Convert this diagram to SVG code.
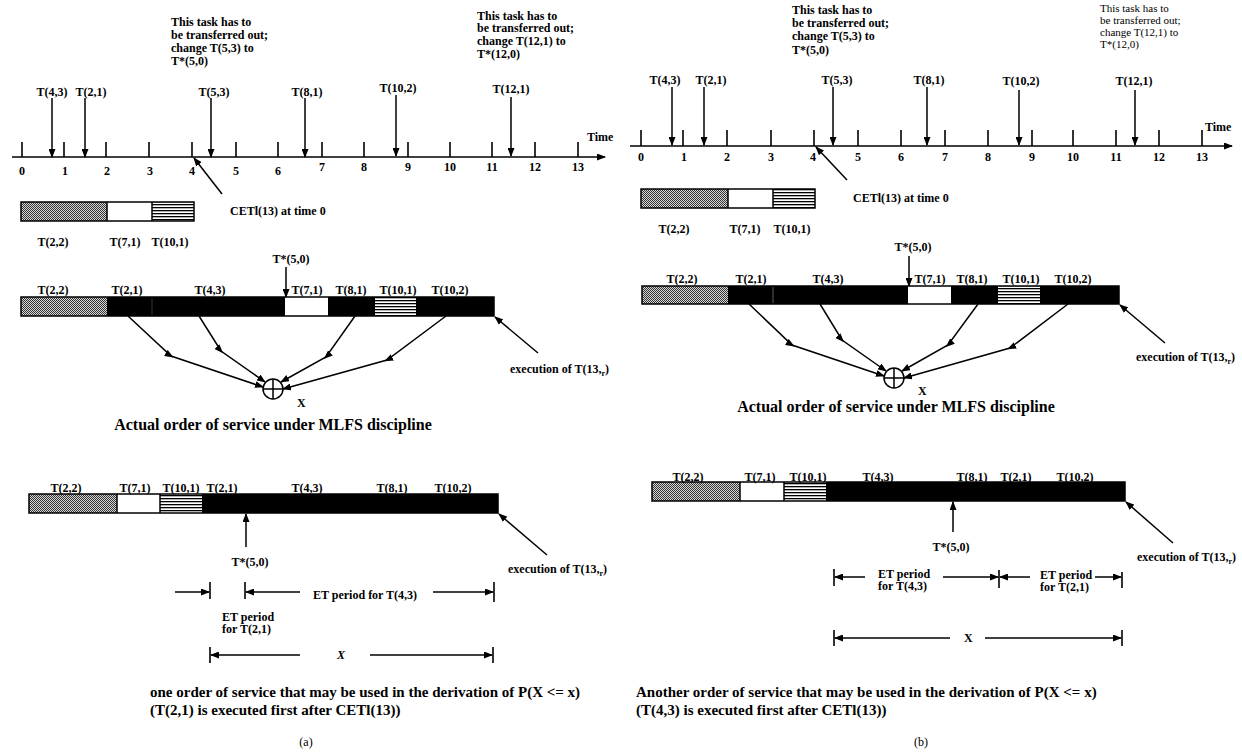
<svg xmlns="http://www.w3.org/2000/svg" width="1242" height="756" viewBox="0 0 1242 756">
<style>
text{font-family:"Liberation Serif","Times New Roman",serif;font-weight:bold;font-size:12px;fill:#000}
.c{text-anchor:middle}
.r{font-weight:normal}
.sm{font-size:11px}
.big{font-size:16px}
.cap{font-size:15px}
.ln{stroke:#000;stroke-width:1.5;fill:none}
.tk{stroke:#000;stroke-width:1.6}
.bar{stroke:#000;stroke-width:1.5}
</style>
<defs>
<marker id="ah" markerUnits="userSpaceOnUse" markerWidth="9" markerHeight="7" refX="8" refY="3.5" orient="auto"><path d="M0,0 L9,3.5 L0,7 z" fill="#000"/></marker>
<marker id="am" markerUnits="userSpaceOnUse" markerWidth="9" markerHeight="7" refX="6" refY="3.5" orient="auto"><path d="M0,0 L9,3.5 L0,7 z" fill="#000"/></marker>
<pattern id="stip" width="2" height="2" patternUnits="userSpaceOnUse"><rect width="2" height="2" fill="#d8d8d8"/><rect width="1" height="1" fill="#333"/><rect x="1" y="1" width="1" height="1" fill="#333"/></pattern>
<pattern id="hstr" width="4" height="3" patternUnits="userSpaceOnUse"><rect width="4" height="3" fill="#fff"/><rect width="4" height="1.3" fill="#000"/></pattern>
</defs>

<!-- ================= PANEL A ================= -->
<g id="a-note1">
<text x="171" y="26">This task has to</text>
<text x="171" y="39">be transferred out;</text>
<text x="171" y="52">change T(5,3) to</text>
<text x="171" y="65">T*(5,0)</text>
</g>
<g id="a-note2">
<text x="477" y="20">This task has to</text>
<text x="477" y="32">be transferred out;</text>
<text x="477" y="45">change T(12,1) to</text>
<text x="477" y="58">T*(12,0)</text>
</g>
<g id="a-arrivals">
<text class="c" x="52" y="96">T(4,3)</text>
<text class="c" x="91" y="96">T(2,1)</text>
<text class="c" x="214" y="96">T(5,3)</text>
<text class="c" x="307" y="96">T(8,1)</text>
<text class="c" x="398" y="92">T(10,2)</text>
<text class="c" x="511" y="93">T(12,1)</text>
</g>
<g id="a-axis">
<line class="ln" x1="12" y1="157" x2="605" y2="157" marker-end="url(#ah)"/>
<path class="tk" d="M22,142V157M64,142V157M106,142V157M149,142V157M192,142V157M236,142V157M278,142V157M322,142V157M364,142V157M408,142V157M450,142V157M492,142V157M535,142V157M578,142V157"/>
<text class="c" x="22" y="175">0</text><text class="c" x="65" y="175">1</text><text class="c" x="107" y="175">2</text><text class="c" x="150" y="175">3</text><text class="c" x="192" y="175">4</text><text class="c" x="236" y="175">5</text><text class="c" x="278" y="175">6</text><text class="c" x="322" y="171">7</text><text class="c" x="364" y="171">8</text><text class="c" x="408" y="171">9</text><text class="c" x="450" y="171">10</text><text class="c" x="492" y="171">11</text><text class="c" x="535" y="171">12</text><text class="c" x="578" y="171">13</text>
<text x="587" y="141">Time</text>
</g>
<g id="a-cet">
<text x="230" y="215">CETl(13) at time 0</text>
</g>
<g id="a-queue">
<rect x="21" y="202" width="86" height="19" fill="url(#stip)"/>
<rect x="107" y="202" width="45" height="19" fill="#fff"/>
<rect x="152" y="202" width="42" height="19" fill="url(#hstr)"/>
<rect class="bar" x="21" y="202" width="173" height="19" fill="none"/>
<line class="bar" x1="107" y1="202" x2="107" y2="221"/><line class="bar" x1="152" y1="202" x2="152" y2="221"/>
<text class="c" x="53" y="246">T(2,2)</text><text class="c" x="125" y="246">T(7,1)</text><text class="c" x="170" y="246">T(10,1)</text>
</g>
<g id="a-actual">
<rect x="21" y="297" width="86" height="19" fill="url(#stip)"/>
<rect x="107" y="297" width="178" height="19" fill="#000"/>
<rect x="285" y="297" width="43" height="19" fill="#fff"/>
<rect x="328" y="297" width="47" height="19" fill="#000"/>
<rect x="375" y="297" width="41" height="19" fill="url(#hstr)"/>
<rect x="416" y="297" width="78" height="19" fill="#000"/>
<rect class="bar" x="21" y="297" width="473" height="19" fill="none"/>
<line x1="152" y1="298" x2="152" y2="315" stroke="#444" stroke-width="0.8"/>
<text class="c" x="53" y="294">T(2,2)</text><text class="c" x="127" y="294">T(2,1)</text><text class="c" x="210" y="294">T(4,3)</text><text class="c" x="307" y="294">T(7,1)</text><text class="c" x="351" y="294">T(8,1)</text><text class="c" x="398" y="294">T(10,1)</text><text class="c" x="450" y="294">T(10,2)</text>
<text class="c" x="291" y="263">T*(5,0)</text>
<text x="510" y="373">execution of T(13,<tspan font-size="8" dy="3">r</tspan><tspan dy="-3">)</tspan></text>
</g>
<g id="a-sum">
<circle cx="273" cy="389" r="10" fill="#fff" stroke="#000" stroke-width="1.5"/>
<path class="ln" d="M263,389H283M273,379V399"/>
<text x="297" y="407">X</text>
</g>
<text class="c big" x="273" y="430">Actual order of service under MLFS discipline</text>
<g id="a-order">
<rect x="29" y="494" width="88" height="19" fill="url(#stip)"/>
<rect x="117" y="494" width="43" height="19" fill="#fff"/>
<rect x="160" y="494" width="42" height="19" fill="url(#hstr)"/>
<rect x="202" y="494" width="296" height="19" fill="#000"/>
<rect class="bar" x="29" y="494" width="469" height="19" fill="none"/>
<line class="bar" x1="117" y1="494" x2="117" y2="513"/><line class="bar" x1="160" y1="494" x2="160" y2="513"/>
<text class="c" x="66" y="492">T(2,2)</text><text class="c" x="135" y="492">T(7,1)</text><text class="c" x="181" y="492">T(10,1)</text><text class="c" x="222" y="492">T(2,1)</text><text class="c" x="307" y="492">T(4,3)</text><text class="c" x="392" y="492">T(8,1)</text><text class="c" x="453" y="492">T(10,2)</text>
<text class="c" x="250" y="566">T*(5,0)</text>
<text x="508" y="573">execution of T(13,<tspan font-size="8" dy="3">r</tspan><tspan dy="-3">)</tspan></text>
<text x="313" y="599">ET period for T(4,3)</text>
<text x="222" y="621">ET period</text>
<text x="222" y="633">for T(2,1)</text>
<text x="337" y="659" font-style="italic" font-weight="normal">X</text>
</g>
<g id="a-caption">
<text class="cap" x="150" y="697">one order of service that may be used in the derivation of P(X &lt;= x)</text>
<text class="cap" x="150" y="715">(T(2,1) is executed first after CETl(13))</text>
<text class="r c" x="306" y="746">(a)</text>
</g>

<!-- ================= PANEL B ================= -->
<g id="b-note1">
<text x="792" y="14">This task has to</text>
<text x="792" y="27">be transferred out;</text>
<text x="792" y="40">change T(5,3) to</text>
<text x="792" y="54">T*(5,0)</text>
</g>
<g id="b-note2">
<text class="r sm" x="1100" y="12">This task has to</text>
<text class="r sm" x="1100" y="24">be transferred out;</text>
<text class="r sm" x="1100" y="36">change T(12,1) to</text>
<text class="r sm" x="1100" y="48">T*(12,0)</text>
</g>
<g id="b-arrivals">
<text class="c" x="665" y="84">T(4,3)</text>
<text class="c" x="711" y="84">T(2,1)</text>
<text class="c" x="837" y="84">T(5,3)</text>
<text class="c" x="929" y="84">T(8,1)</text>
<text class="c" x="1021" y="85">T(10,2)</text>
<text class="c" x="1134" y="85">T(12,1)</text>
</g>
<g id="b-axis">
<line class="ln" x1="630" y1="146" x2="1232" y2="146" marker-end="url(#ah)"/>
<path class="tk" d="M641,130V146M683,130V146M727,130V146M771,130V146M814,130V146M858,130V146M901,130V146M945,130V146M988,130V146M1032,130V146M1073,130V146M1116,130V146M1159,130V146M1202,130V146"/>
<text class="c" x="641" y="161">0</text><text class="c" x="684" y="161">1</text><text class="c" x="727" y="161">2</text><text class="c" x="771" y="161">3</text><text class="c" x="813" y="161">4</text><text class="c" x="858" y="161">5</text><text class="c" x="901" y="161">6</text><text class="c" x="945" y="161">7</text><text class="c" x="988" y="161">8</text><text class="c" x="1032" y="161">9</text><text class="c" x="1073" y="161">10</text><text class="c" x="1116" y="161">11</text><text class="c" x="1159" y="161">12</text><text class="c" x="1202" y="161">13</text>
<text x="1205" y="131">Time</text>
</g>
<g id="b-cet">
<text x="853" y="202">CETl(13) at time 0</text>
</g>
<g id="b-queue">
<rect x="641" y="189" width="87" height="19" fill="url(#stip)"/>
<rect x="728" y="189" width="45" height="19" fill="#fff"/>
<rect x="773" y="189" width="42" height="19" fill="url(#hstr)"/>
<rect class="bar" x="641" y="189" width="174" height="19" fill="none"/>
<line class="bar" x1="728" y1="189" x2="728" y2="208"/><line class="bar" x1="773" y1="189" x2="773" y2="208"/>
<text class="c" x="674" y="233">T(2,2)</text><text class="c" x="745" y="233">T(7,1)</text><text class="c" x="792" y="233">T(10,1)</text>
</g>
<g id="b-actual">
<rect x="642" y="286" width="86" height="18" fill="url(#stip)"/>
<rect x="728" y="286" width="180" height="18" fill="#000"/>
<rect x="908" y="286" width="43" height="18" fill="#fff"/>
<rect x="951" y="286" width="47" height="18" fill="#000"/>
<rect x="998" y="286" width="42" height="18" fill="url(#hstr)"/>
<rect x="1040" y="286" width="79" height="18" fill="#000"/>
<rect class="bar" x="642" y="286" width="477" height="18" fill="none"/>
<line x1="773" y1="287" x2="773" y2="303" stroke="#777" stroke-width="0.8"/>
<text class="c" x="682" y="283">T(2,2)</text><text class="c" x="751" y="283">T(2,1)</text><text class="c" x="828" y="283">T(4,3)</text><text class="c" x="930" y="283">T(7,1)</text><text class="c" x="972" y="283">T(8,1)</text><text class="c" x="1021" y="283">T(10,1)</text><text class="c" x="1073" y="283">T(10,2)</text>
<text class="c" x="913" y="251">T*(5,0)</text>
<text x="1136" y="361">execution of T(13,<tspan font-size="8" dy="3">r</tspan><tspan dy="-3">)</tspan></text>
</g>
<g id="b-sum">
<circle cx="894" cy="378" r="10" fill="#fff" stroke="#000" stroke-width="1.5"/>
<path class="ln" d="M884,378H904M894,368V388"/>
<text x="918" y="395">X</text>
</g>
<text class="c big" x="896" y="412">Actual order of service under MLFS discipline</text>
<g id="b-order">
<rect x="652" y="482" width="88" height="19" fill="url(#stip)"/>
<rect x="740" y="482" width="44" height="19" fill="#fff"/>
<rect x="784" y="482" width="42" height="19" fill="url(#hstr)"/>
<rect x="826" y="482" width="299" height="19" fill="#000"/>
<rect class="bar" x="652" y="482" width="473" height="19" fill="none"/>
<line class="bar" x1="740" y1="482" x2="740" y2="501"/><line class="bar" x1="784" y1="482" x2="784" y2="501"/>
<text class="c" x="688" y="481">T(2,2)</text><text class="c" x="760" y="481">T(7,1)</text><text class="c" x="808" y="481">T(10,1)</text><text class="c" x="878" y="481">T(4,3)</text><text class="c" x="972" y="481">T(8,1)</text><text class="c" x="1016" y="481">T(2,1)</text><text class="c" x="1075" y="481">T(10,2)</text>
<text class="c" x="951" y="551">T*(5,0)</text>
<text x="1137" y="561">execution of T(13,<tspan font-size="8" dy="3">r</tspan><tspan dy="-3">)</tspan></text>
<text x="878" y="578">ET period</text>
<text x="878" y="590">for T(4,3)</text>
<text x="1040" y="579">ET period</text>
<text x="1040" y="591">for T(2,1)</text>
<text x="964" y="642">X</text>
</g>
<g id="b-caption">
<text class="cap" x="636" y="697">Another order of service that may be used in the derivation of P(X &lt;= x)</text>
<text class="cap" x="636" y="715">(T(4,3) is executed first after CETl(13))</text>
<text class="r c" x="921" y="746">(b)</text>
</g>

<!-- ================= CONNECTORS ================= -->
<g id="connectors">
<line class="ln" x1="52" y1="98" x2="52" y2="157" marker-end="url(#ah)"/>
<line class="ln" x1="85" y1="98" x2="85" y2="157" marker-end="url(#ah)"/>
<line class="ln" x1="211" y1="98" x2="211" y2="157" marker-end="url(#ah)"/>
<line class="ln" x1="305" y1="98" x2="305" y2="157" marker-end="url(#ah)"/>
<line class="ln" x1="396" y1="95" x2="396" y2="156" marker-end="url(#ah)"/>
<line class="ln" x1="511" y1="97" x2="511" y2="156" marker-end="url(#ah)"/>
<line class="ln" x1="222" y1="194" x2="194" y2="158" marker-end="url(#ah)"/>
<line class="ln" x1="286" y1="267" x2="286" y2="297" marker-end="url(#ah)"/>
<polyline class="ln" points="128,316 171,356 263,387" marker-mid="url(#am)" marker-end="url(#ah)"/>
<polyline class="ln" points="199,316 221,351 265,382" marker-mid="url(#am)" marker-end="url(#ah)"/>
<polyline class="ln" points="355,316 326,357 281,382" marker-mid="url(#am)" marker-end="url(#ah)"/>
<polyline class="ln" points="446,316 387,360 283,389" marker-mid="url(#am)" marker-end="url(#ah)"/>
<line class="ln" x1="538" y1="353" x2="495" y2="317" marker-end="url(#ah)"/>
<line class="ln" x1="246" y1="547" x2="246" y2="514" marker-end="url(#ah)"/>
<line class="ln" x1="547" y1="555" x2="499" y2="514" marker-end="url(#ah)"/>
<line class="ln" x1="175" y1="592" x2="209" y2="592" marker-end="url(#ah)"/>
<line class="tk" x1="210" y1="582" x2="210" y2="599"/>
<line class="tk" x1="245" y1="582" x2="245" y2="599"/>
<line class="ln" x1="300" y1="592" x2="246" y2="592" marker-end="url(#ah)"/>
<line class="ln" x1="433" y1="592" x2="493" y2="592" marker-end="url(#ah)"/>
<line class="tk" x1="494" y1="582" x2="494" y2="602"/>
<line class="tk" x1="210" y1="647" x2="210" y2="663"/>
<line class="ln" x1="300" y1="655" x2="211" y2="655" marker-end="url(#ah)"/>
<line class="ln" x1="370" y1="655" x2="492" y2="655" marker-end="url(#ah)"/>
<line class="tk" x1="493" y1="647" x2="493" y2="663"/>
<line class="ln" x1="672" y1="87" x2="672" y2="145" marker-end="url(#ah)"/>
<line class="ln" x1="704" y1="87" x2="704" y2="145" marker-end="url(#ah)"/>
<line class="ln" x1="833" y1="87" x2="833" y2="145" marker-end="url(#ah)"/>
<line class="ln" x1="927" y1="87" x2="927" y2="145" marker-end="url(#ah)"/>
<line class="ln" x1="1019" y1="90" x2="1019" y2="145" marker-end="url(#ah)"/>
<line class="ln" x1="1135" y1="90" x2="1135" y2="145" marker-end="url(#ah)"/>
<line class="ln" x1="847" y1="180" x2="816" y2="147" marker-end="url(#ah)"/>
<line class="ln" x1="909" y1="256" x2="909" y2="286" marker-end="url(#ah)"/>
<polyline class="ln" points="749,304 792,345 884,376" marker-mid="url(#am)" marker-end="url(#ah)"/>
<polyline class="ln" points="820,304 842,340 886,371" marker-mid="url(#am)" marker-end="url(#ah)"/>
<polyline class="ln" points="978,304 948,345 902,371" marker-mid="url(#am)" marker-end="url(#ah)"/>
<polyline class="ln" points="1068,304 1010,348 904,378" marker-mid="url(#am)" marker-end="url(#ah)"/>
<line class="ln" x1="1165" y1="343" x2="1120" y2="305" marker-end="url(#ah)"/>
<line class="ln" x1="953" y1="532" x2="953" y2="502" marker-end="url(#ah)"/>
<line class="ln" x1="1173" y1="543" x2="1126" y2="502" marker-end="url(#ah)"/>
<line class="tk" x1="834" y1="569" x2="834" y2="586"/>
<line class="ln" x1="865" y1="577" x2="835" y2="577" marker-end="url(#ah)"/>
<line class="ln" x1="943" y1="577" x2="998" y2="577" marker-end="url(#ah)"/>
<line class="tk" x1="999" y1="570" x2="999" y2="588"/>
<line class="ln" x1="1030" y1="577" x2="1000" y2="577" marker-end="url(#ah)"/>
<line class="ln" x1="1095" y1="577" x2="1121" y2="577" marker-end="url(#ah)"/>
<line class="tk" x1="1122" y1="572" x2="1122" y2="588"/>
<line class="tk" x1="834" y1="630" x2="834" y2="646"/>
<line class="ln" x1="950" y1="638" x2="835" y2="638" marker-end="url(#ah)"/>
<line class="ln" x1="985" y1="638" x2="1121" y2="638" marker-end="url(#ah)"/>
<line class="tk" x1="1122" y1="630" x2="1122" y2="646"/>
</g>
</svg>
